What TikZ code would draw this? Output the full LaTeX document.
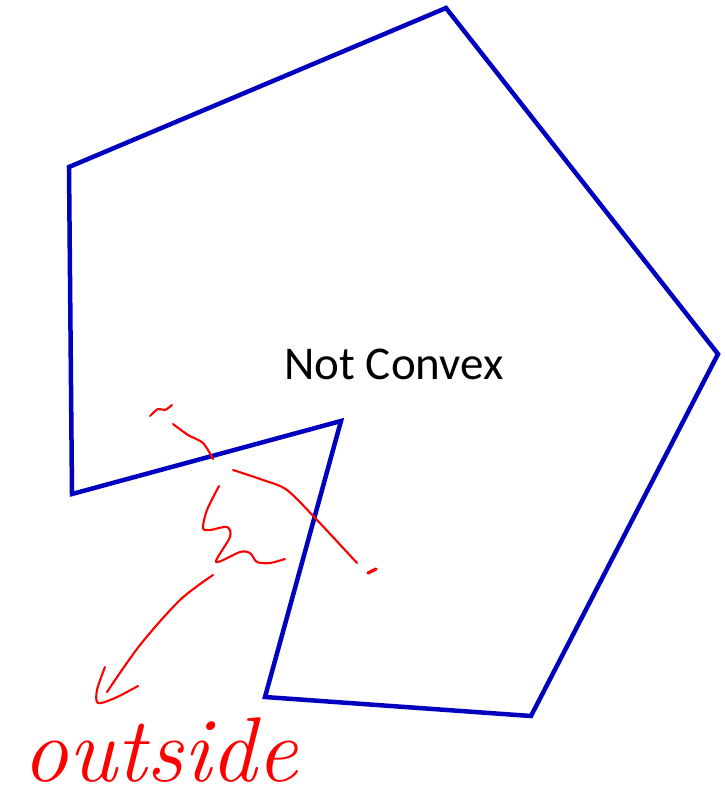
\documentclass[tikz,border=0pt]{standalone}
\usepackage{fontspec}
\newfontfamily\calfont{Carlito}
\definecolor{polyblue}{RGB}{0,0,190}
\definecolor{inkred}{RGB}{255,0,0}
\begin{document}
\begin{tikzpicture}[x=1pt,y=-1pt,
  edge/.style={draw=polyblue,line width=4.5pt,line join=miter},
  ink/.style={draw=inkred,line width=2.1pt,line cap=round,line join=round},
  lbl/.style={font=\calfont\fontsize{47}{56}\selectfont,inner sep=0pt,anchor=base}]
\useasboundingbox (0,0) rectangle (725,804);
\coordinate (v1) at (446,8);
\coordinate (v2) at (718,354);
\coordinate (v3) at (531,716);
\coordinate (v4) at (265,697);
\coordinate (v5) at (341,421);
\coordinate (v6) at (72,494);
\coordinate (v7) at (69,167);
\draw[edge] (v1) -- (v2) -- (v3) -- (v4) -- (v5) -- (v6) -- (v7) -- cycle;
\node[lbl] (title) at (394,379) {Not Convex};
% red ink
\draw[ink] plot[smooth] coordinates {(150,416) (158,409) (165,410) (172,405)};
\draw[ink] plot[smooth] coordinates {(173,424) (188,435) (203,443) (213,459)};
\draw[ink] plot[smooth] coordinates {(233,470) (263,480) (287,490) (317,520) (357,563)};
\draw[ink,line width=3.2pt] (368,573) -- (376,569);
\draw[ink] plot[smooth] coordinates {(219,486) (207,510) (203,528) (210,530) (227,527) (230,537) (216,562) (240,552) (250,553) (257,562) (270,563) (285,559)};
\draw[ink] plot[smooth] coordinates {(213,575) (180,600) (140,645) (107,692)};
\draw[ink] plot[smooth] coordinates {(105,667) (97,690) (98,703) (115,698) (138,686)};
\node[font=\fontsize{92}{100}\selectfont\itshape,text=inkred,inner sep=0pt,anchor=base west] (outside) at (22,781) {outside};
\end{tikzpicture}
\end{document}
